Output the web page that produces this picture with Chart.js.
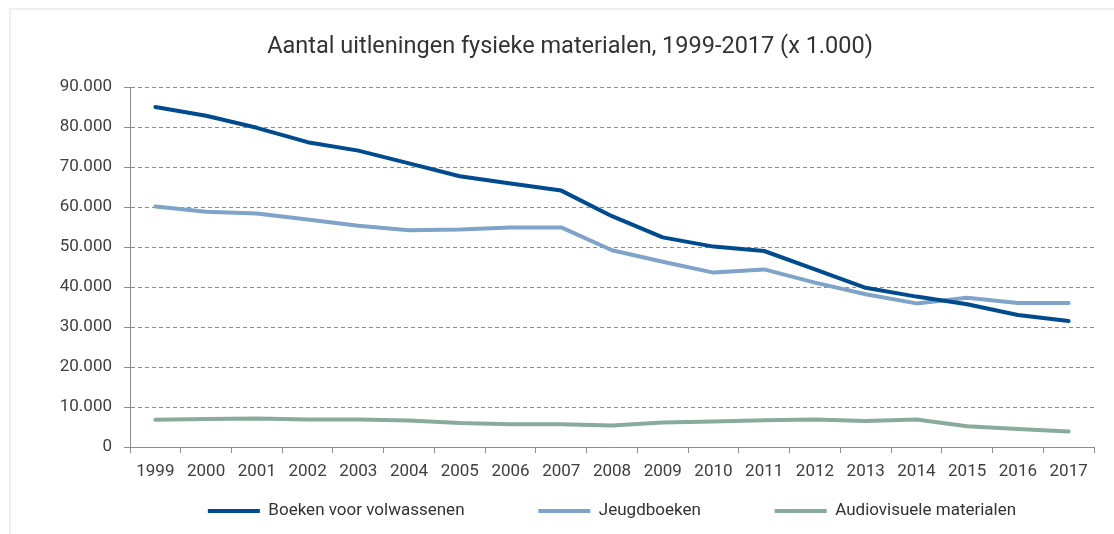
<!DOCTYPE html>
<html>
<head>
<meta charset="utf-8">
<script src="https://cdn.jsdelivr.net/npm/chart.js@4.4.1/dist/chart.umd.min.js"></script>
<style>
  html, body { margin: 0; padding: 0; background: #ffffff; overflow: hidden; }
  #wrap { position: relative; width: 1114px; height: 534px; }
  #frame { position: absolute; left: 9px; top: 8px; width: 1200px; height: 600px;
           border-top: 2px solid #efefef; border-left: 2px solid #efefef; }
  canvas { position: absolute; left: 0; top: 0; }
</style>
</head>
<body>
<div id="wrap">
  <div id="frame"></div>
  <canvas id="c" width="1114" height="534"></canvas>
</div>
<script>
const chartTitle = 'Aantal uitleningen fysieke materialen, 1999-2017 (x 1.000)';
const years = ['1999','2000','2001','2002','2003','2004','2005','2006','2007','2008','2009','2010','2011','2012','2013','2014','2015','2016','2017'];
const seriesNames = ['Boeken voor volwassenen', 'Jeugdboeken', 'Audiovisuele materialen'];
const adultBooks = [85000, 82800, 79800, 76200, 74100, 70900, 67700, 65900, 64100, 57700, 52400, 50100, 49000, 44400, 39800, 37600, 35700, 33000, 31500];
const youthBooks = [60100, 58800, 58400, 56900, 55300, 54200, 54400, 54900, 54900, 49200, 46300, 43600, 44400, 41100, 38200, 35900, 37300, 36000, 36000];
const audioVisual = [6800, 7000, 7100, 6900, 6900, 6600, 6000, 5700, 5700, 5400, 6100, 6400, 6700, 6900, 6500, 6900, 5200, 4500, 3900];
const yTicks = [0, 10000, 20000, 30000, 40000, 50000, 60000, 70000, 80000, 90000];

const colors = ['#004b8d', '#7fa3c9', '#89ab9b'];
const FONT = 'Roboto, "DejaVu Sans", sans-serif';
const fmt = v => String(v).replace(/\B(?=(\d{3})+(?!\d))/g, '.');
const LEGEND_GAP = '\u00A0'.repeat(13);

function ds(label, data, color) {
  return {
    label, data,
    borderColor: color, backgroundColor: color,
    borderWidth: 4, pointRadius: 0, pointHoverRadius: 0,
    tension: 0, borderCapStyle: 'round', borderJoinStyle: 'round', fill: false
  };
}

new Chart(document.getElementById('c'), {
  type: 'line',
  data: {
    labels: years,
    datasets: [
      ds(seriesNames[0], adultBooks, colors[0]),
      ds(seriesNames[1], youthBooks, colors[1]),
      ds(seriesNames[2], audioVisual, colors[2])
    ]
  },
  options: {
    responsive: false,
    animation: false,
    events: [],
    layout: { padding: { left: 46, right: 20, top: 0, bottom: 4.5 } },
    plugins: {
      title: {
        display: true, text: chartTitle, color: '#333333',
        font: { family: FONT, size: 23.5, weight: 'normal' },
        padding: { top: 33, bottom: 25.8 }
      },
      legend: {
        position: 'bottom', fullSize: false,
        labels: {
          color: '#333333', boxWidth: 52, boxHeight: 4, padding: 19,
          font: { family: FONT, size: 17 },
          generateLabels(chart) {
            const items = Chart.defaults.plugins.legend.labels.generateLabels(chart);
            items.forEach((it, i) => {
              it.lineWidth = 0;
              if (i < items.length - 1) it.text = it.text + LEGEND_GAP;
            });
            return items;
          }
        }
      },
      tooltip: { enabled: false }
    },
    scales: {
      x: {
        offset: true,
        grid: { offset: true, drawOnChartArea: false, drawTicks: true, tickLength: 6, color: '#8c8c8c', lineWidth: 1 },
        border: { display: true, color: '#8c8c8c', width: 1 },
        ticks: { color: '#404040', padding: 9, font: { family: FONT, size: 17 }, maxRotation: 0, autoSkip: false },
        afterFit(scale) { scale.height = 36.5; }
      },
      y: {
        min: 0, max: 90000,
        afterBuildTicks(scale) { scale.ticks = yTicks.map(v => ({ value: v })); },
        afterFit(scale) { scale.width = 84; },
        grid: { color: '#8c8c8c', lineWidth: 1, tickLength: 6, drawTicks: true },
        border: { display: true, color: '#8c8c8c', width: 1, dash: [4, 3] },
        ticks: { color: '#404040', padding: 12, font: { family: FONT, size: 17 }, callback: v => fmt(v) }
      }
    }
  }
});
</script>
</body>
</html>
